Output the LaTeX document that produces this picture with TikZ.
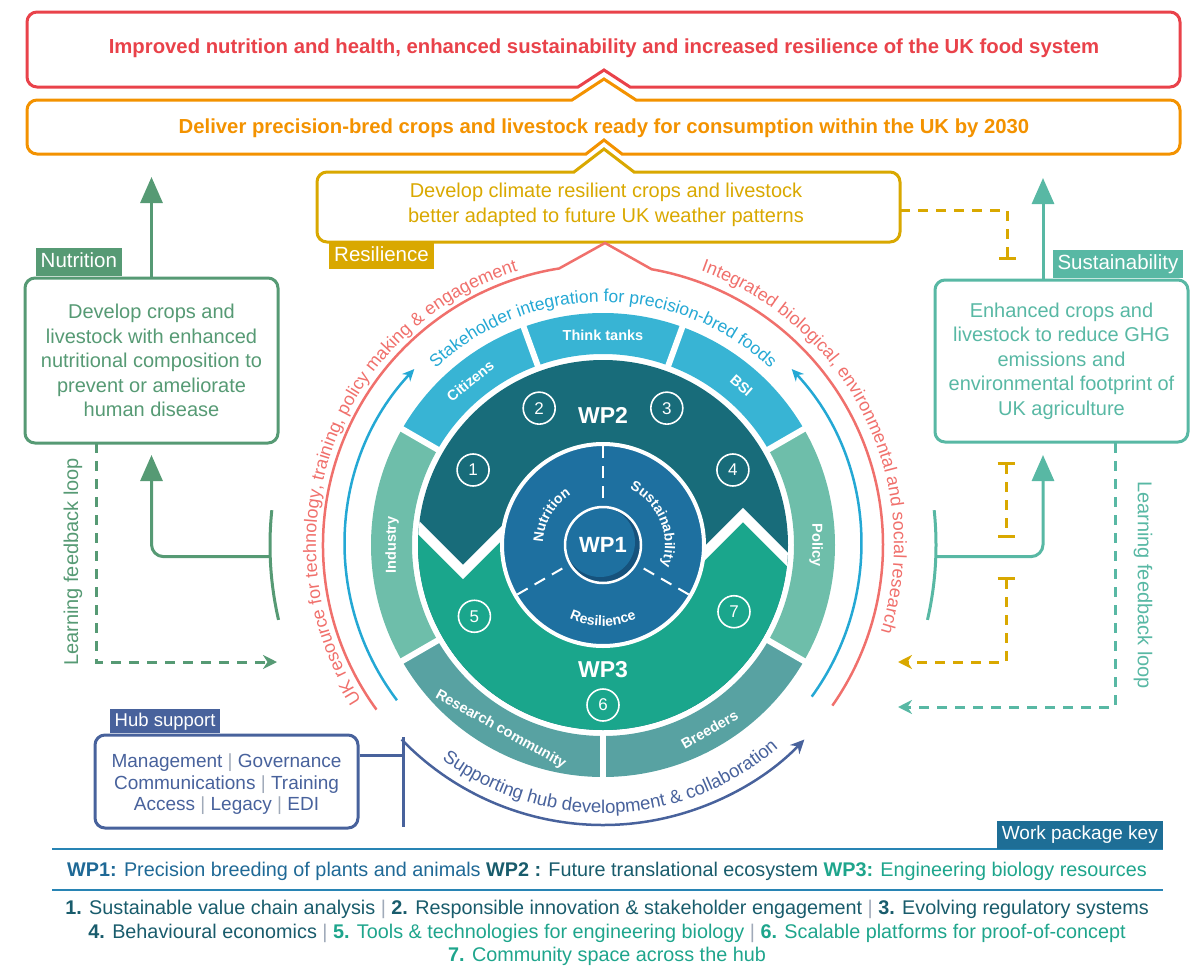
\documentclass[tikz,border=0pt]{standalone}
\usepackage{fontspec}
\setmainfont{Liberation Sans}
\usepackage{tikz}
\usetikzlibrary{arrows.meta, calc, decorations.text}

\definecolor{goalred}{RGB}{233,66,74}
\definecolor{goalorange}{RGB}{243,146,0}
\definecolor{resgold}{RGB}{217,168,0}
\definecolor{nutgreen}{RGB}{86,154,116}
\definecolor{susteal}{RGB}{88,184,164}
\definecolor{ringred}{RGB}{240,112,108}
\definecolor{ringblue}{RGB}{36,168,212}
\definecolor{hubblue}{RGB}{72,98,156}
\definecolor{keyblue}{RGB}{30,110,150}
\definecolor{keyline}{RGB}{40,132,180}
\definecolor{wponefill}{RGB}{30,112,160}
\definecolor{wponeshade}{RGB}{22,82,124}
\definecolor{wptwofill}{RGB}{24,108,122}
\definecolor{wpthreefill}{RGB}{26,166,140}
\definecolor{stakefill}{RGB}{56,180,212}
\definecolor{sidefill}{RGB}{110,190,170}
\definecolor{basefill}{RGB}{88,162,162}
\definecolor{wponetext}{RGB}{31,105,150}
\definecolor{wptwotext}{RGB}{25,92,108}
\definecolor{wpthreetext}{RGB}{30,165,140}
\definecolor{sepgrey}{RGB}{160,170,185}

\newcommand{\pxsize}[2]{\fontsize{#1}{#2}\selectfont}
\newcommand{\keysep}{{\color{sepgrey}|}}

\tikzset{
  aimbox/.style={draw, line width=3pt, rounded corners=10pt},
  tagbox/.style={inner xsep=5pt, inner ysep=0pt, minimum height=28pt, text height=14pt, text depth=4pt, text=white, font=\pxsize{20.5}{22}},
  aimtext/.style={align=center, font=\pxsize{20}{24.5}},
  seglabel/.style={text=white, font=\bfseries\pxsize{14.5}{16}},
  wplabel/.style={text=white, font=\bfseries\pxsize{23}{24}},
  numcirc/.style={circle, draw=white, line width=1.6pt, minimum size=32pt, inner sep=0pt, text=white, font=\pxsize{17}{17}},
  solidlink/.style={line width=3pt},
  looplink/.style={line width=3pt, dash pattern=on 10pt off 8pt},
  bigtip/.style={-{Triangle[width=22pt, length=26pt]}},
  looptip/.style={-{Stealth[width=14pt, length=14pt]}},
  ringtip/.style={-{Stealth[width=11pt, length=12pt]}},
  keytext/.style={font=\pxsize{19.8}{22}}
}

\begin{document}
\begin{tikzpicture}[x=1pt, y=1pt]
\useasboundingbox (0,0) rectangle (1200,-977);
\coordinate (c) at (603,-545);

% Goal boxes at the top
\draw[goalred, line width=3pt] (37,-12) -- (1170,-12) arc[start angle=90, end angle=0, radius=10pt]
  -- (1180,-77) arc[start angle=0, end angle=-90, radius=10pt] -- (630,-87) -- (604,-70) -- (578,-87)
  -- (37,-87) arc[start angle=270, end angle=180, radius=10pt] -- (27,-22)
  arc[start angle=180, end angle=90, radius=10pt] -- cycle;
\node[text=goalred, font=\bfseries\pxsize{20.3}{24}] (goal) at (604,-48)
  {Improved nutrition and health, enhanced sustainability and increased resilience of the UK food system};

\draw[goalorange, line width=3pt] (37,-100) -- (572,-100) -- (604,-79) -- (636,-100) -- (1170,-100)
  arc[start angle=90, end angle=0, radius=10pt] -- (1180,-144) arc[start angle=0, end angle=-90, radius=10pt]
  -- (622,-154) -- (604,-140) -- (586,-154) -- (37,-154) arc[start angle=270, end angle=180, radius=10pt]
  -- (27,-110) arc[start angle=180, end angle=90, radius=10pt] -- cycle;
\node[text=goalorange, font=\bfseries\pxsize{20.3}{24}] (deliver) at (604,-128)
  {Deliver precision-bred crops and livestock ready for consumption within the UK by 2030};

\draw[resgold, line width=3pt] (327,-172) -- (574,-172) -- (604,-149) -- (634,-172) -- (890,-172)
  arc[start angle=90, end angle=0, radius=10pt] -- (900,-232) arc[start angle=0, end angle=-90, radius=10pt]
  -- (327,-242) arc[start angle=270, end angle=180, radius=10pt] -- (317,-182)
  arc[start angle=180, end angle=90, radius=10pt] -- cycle;
\node[aimtext, text=resgold] (restext) at (606,-205)
  {Develop climate resilient crops and livestock\\better adapted to future UK weather patterns};
\node[tagbox, fill=resgold, minimum height=26pt, anchor=north west] (restag) at (329,-243) {Resilience};

% Side boxes
\node[aimbox, nutgreen, minimum width=253pt, minimum height=165pt] (nutbox) at (151.5,-360.5) {};
\node[aimtext, text=nutgreen] (nuttext) at (nutbox)
  {Develop crops and\\livestock with enhanced\\nutritional composition to\\prevent or ameliorate\\human disease};
\node[tagbox, fill=nutgreen, anchor=south west] (nuttag) at ($(nutbox.north west)+(12,0)$) {Nutrition};

\node[aimbox, susteal, minimum width=253pt, minimum height=162pt] (susbox) at (1061.5,-361) {};
\node[aimtext, text=susteal] (sustext) at (susbox)
  {Enhanced crops and\\livestock to reduce GHG\\emissions and\\environmental footprint of\\UK agriculture};
\node[tagbox, fill=susteal, anchor=south east] (sustag) at ($(susbox.north east)+(-6,0)$) {Sustainability};

\node[aimbox, hubblue, minimum width=263pt, minimum height=93pt] (hubbox) at (226.5,-781.5) {};
\node[align=center, text=hubblue, font=\pxsize{19}{21.5}] (hubtext) at ($(hubbox)+(0,-3)$)
  {Management \keysep\ Governance\\Communications \keysep\ Training\\Access \keysep\ Legacy \keysep\ EDI};
\node[tagbox, fill=hubblue, minimum height=24pt, text height=13pt, text depth=3.5pt, font=\pxsize{18.5}{20},
  anchor=south west] (hubtag) at ($(hubbox.north west)+(16,0)$) {Hub support};

% Links between boxes and the wheel
\coordinate (nutup) at (151.5,-177);
\coordinate (nutin) at (151.5,-455);
\coordinate (nutbrk) at ($(c)+(182:333pt)$);
\coordinate (nutloop) at (277,-662);
\coordinate (susup) at (1043,-178);
\coordinate (susin) at (1043,-455);
\coordinate (susbrk) at ($(c)+(-2:333pt)$);
\coordinate (susloop) at (898,-707);
\coordinate (resright) at (900,-210);
\coordinate (resloop) at (898,-662);

\draw[nutgreen, solidlink, bigtip] (nutbox.north) -- (nutup);
\draw[nutgreen, solidlink] ($(c)+(174:333pt)$) arc[start angle=174, end angle=193, radius=333pt];
\draw[nutgreen, solidlink, bigtip, rounded corners=12pt] (nutbrk) -| (nutin);
\draw[nutgreen, looplink, looptip] (96,-443) |- (nutloop);
\node[text=nutgreen, rotate=90, font=\pxsize{20}{22}] (nutlearn) at (73,-562) {Learning feedback loop};

\draw[susteal, solidlink, bigtip] (susup |- susbox.north) -- (susup);
\draw[susteal, solidlink] ($(c)+(6:333pt)$) arc[start angle=6, end angle=-13, radius=333pt];
\draw[susteal, solidlink, bigtip, rounded corners=12pt] (susbrk) -| (susin);
\draw[susteal, looplink, looptip] (1115,-443) |- (susloop);
\node[text=susteal, rotate=-90, font=\pxsize{20}{22}] (suslearn) at (1143,-585) {Learning feedback loop};

\draw[resgold, looplink, -{Bar[width=17pt]}] (resright) -| (1007,-260);
\draw[resgold, looplink, {Bar[width=17pt]}-{Bar[width=17pt]}] (1006,-462) -- (1006,-538);
\draw[resgold, looplink, {Bar[width=17pt]}-{Stealth[width=14pt, length=14pt]}] (1006,-577) |- (resloop);

\draw[hubblue, solidlink] (hubbox.east |- 0,-755) -- (403,-755);
\draw[hubblue, solidlink] (403,-737) -- (403,-827);

% The wheel
\begin{scope}[shift={(c)}]
  % outer stakeholder segments
  \foreach \a/\b/\col in {-30/30/sidefill, 30/70/stakefill, 70/110/stakefill, 110/150/stakefill,
                          150/210/sidefill, 210/270/basefill, 270/330/basefill}
    \fill[\col] (\a:191pt) arc[start angle=\a, end angle=\b, radius=191pt]
      -- (\b:232pt) arc[start angle=\b, end angle=\a, radius=232pt] -- cycle;
  \foreach \a in {30,70,110,150,210,270,330}
    \draw[white, line width=6pt] (\a:186pt) -- (\a:240pt);

  % WP2 and WP3 ring
  \fill[wptwofill] (0,0) circle (185pt);
  \begin{scope}
    \clip (0,0) circle (185pt);
    \fill[wpthreefill] (-340,173) -- (-140,-27) -- (-100,13) -- (100,-10) -- (140,30)
      -- (340,-170) -- (340,-300) -- (-340,-300) -- cycle;
    \draw[white, line width=10pt] (-340,173) -- (-140,-27) -- (-90,23);
    \draw[white, line width=10pt] (90,-20) -- (140,30) -- (340,-170);
  \end{scope}

  % WP1 core
  \draw[white, line width=4pt, fill=wponefill] (0,0) circle (101pt);
  \foreach \a in {90,210,330}
    \draw[white, line width=2pt, dash pattern=on 12pt off 8pt] (\a:99pt) -- (\a:44pt);
  \fill[wponeshade] (0,0) circle (37pt);
  \fill[wponefill] (-3,3) circle (35pt);
  \draw[white, line width=2.5pt] (0,0) circle (38pt);
  \node[wplabel, font=\bfseries\pxsize{22}{24}] (wpone) at (0,0) {WP1};
  \node[wplabel] (wptwo) at (90:130pt) {WP2};
  \node[wplabel] (wpthree) at (270:125pt) {WP3};

  \foreach \n/\a/\r in {1/150/150, 2/115/151, 3/65/151, 4/30/150, 5/209/147, 6/270/160, 7/333/147}
    \node[numcirc] (num\n) at (\a:\r pt) {\n};

  \path[decorate, decoration={text along path, text align=center, text color=white,
    text={|\bfseries\pxsize{14}{14}|Nutrition}}] (190:60pt) arc[start angle=190, end angle=110, radius=60pt];
  \path[decorate, decoration={text along path, text align=center, text color=white,
    text={|\bfseries\pxsize{14}{14}|Sustainability}}] (80:62pt) arc[start angle=80, end angle=-35, radius=62pt];
  \path[decorate, decoration={text along path, text align=center, text color=white,
    text={|\bfseries\pxsize{14}{14}|Resilience}}] (235:81pt) arc[start angle=235, end angle=305, radius=81pt];

  % segment names
  \node[seglabel] (thinktanks) at (90:210pt) {Think tanks};
  \node[seglabel, rotate=39] (citizens) at (129:211pt) {Citizens};
  \node[seglabel, rotate=-41] (bsi) at (49:211pt) {BSI};
  \node[seglabel, rotate=90] (industry) at (180:211pt) {Industry};
  \node[seglabel, rotate=-90] (policy) at (0:213pt) {Policy};
  \node[seglabel, rotate=-29] (research) at (241:211pt) {Research community};
  \node[seglabel, rotate=30] (breeders) at (300:213pt) {Breeders};

  % surrounding arcs
  \draw[ringblue, line width=2.5pt, ringtip] (217:258pt) arc[start angle=217, end angle=137, radius=258pt];
  \draw[ringblue, line width=2.5pt, ringtip] (-36:258pt) arc[start angle=-36, end angle=43, radius=258pt];
  \path[decorate, decoration={text along path, text align=center, text color=ringblue,
    text={|\pxsize{17.5}{18}|Stakeholder integration for precision-bred foods}}]
    (140:243pt) arc[start angle=140, end angle=40, radius=243pt];

  \draw[ringred, line width=2.5pt] (216:280pt) arc[start angle=216, end angle=99, radius=280pt]
    -- (2,302) -- (80:280pt) arc[start angle=80, end angle=-35, radius=280pt];
  \path[decorate, decoration={text along path, text align=center, text color=ringred,
    text={|\pxsize{18}{18}|UK resource for technology, training, policy making {\&} engagement}}]
    (226:287pt) arc[start angle=226, end angle=94, radius=287pt];
  \path[decorate, decoration={text along path, text align=center, text color=ringred,
    text={|\pxsize{18}{18}|Integrated biological, environmental and social research}}]
    (86:291pt) arc[start angle=86, end angle=-33, radius=291pt];

  \draw[hubblue, line width=2.5pt, -{Stealth[width=13pt, length=14pt]}] (224:280pt) arc[start angle=224, end angle=316, radius=280pt];
  \path[decorate, decoration={text along path, text align=center, text color=hubblue,
    text={|\pxsize{18.5}{18}|Supporting hub development {\&} collaboration}}]
    (222:268pt) arc[start angle=222, end angle=322, radius=268pt];
\end{scope}

% Work package key
\draw[keyline, line width=2.5pt] (52,-849) -- (1163,-849);
\draw[keyline, line width=2.5pt] (52,-890) -- (1163,-890);
\node[tagbox, fill=keyblue, minimum height=28pt, font=\pxsize{19}{21}, anchor=south east] (keytag) at (1163,-849) {Work package key};
\node[keytext] (wpline) at (607,-871)
  {{\color{wponetext}\textbf{WP1:} Precision breeding of plants and animals} {\color{wptwotext}\textbf{WP2 :} Future translational ecosystem} {\color{wpthreetext}\textbf{WP3:} Engineering biology resources}};
\node[keytext, text=wptwotext] (keyone) at (607,-909)
  {\textbf{1.} Sustainable value chain analysis \keysep\ \textbf{2.} Responsible innovation \& stakeholder engagement \keysep\ \textbf{3.} Evolving regulatory systems};
\node[keytext] (keytwo) at (607,-933)
  {{\color{wptwotext}\textbf{4.} Behavioural economics} \keysep\ {\color{wpthreetext}\textbf{5.} Tools \& technologies for engineering biology} \keysep\ {\color{wpthreetext}\textbf{6.} Scalable platforms for proof-of-concept}};
\node[keytext, text=wpthreetext] (keythree) at (607,-956) {\textbf{7.} Community space across the hub};
\end{tikzpicture}
\end{document}
